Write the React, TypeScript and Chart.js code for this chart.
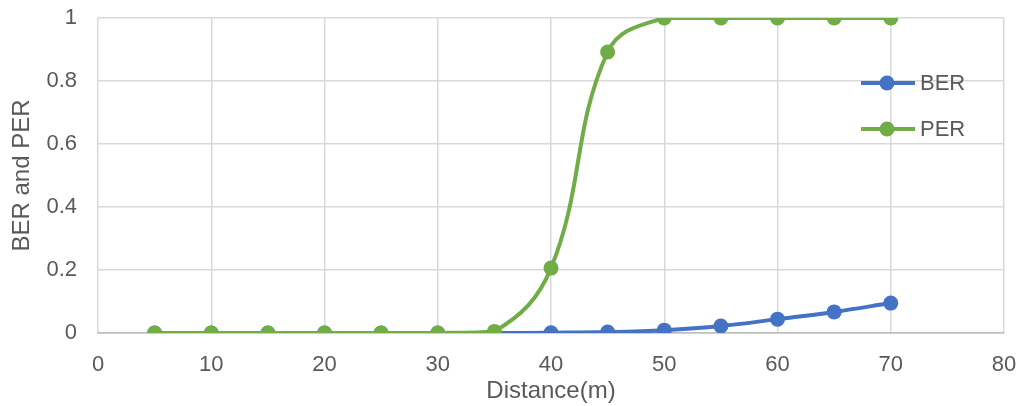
import React, { useEffect, useRef } from "react";
import { Chart, registerables } from "chart.js";

Chart.register(...registerables);

const distances = [5, 10, 15, 20, 25, 30, 35, 40, 45, 50, 55, 60, 65, 70];
const berValues = [0, 0, 0, 0, 0, 0, 0, 0.001, 0.003, 0.009, 0.022, 0.044, 0.067, 0.095];
const perValues = [0, 0, 0, 0, 0, 0, 0.005, 0.206, 0.892, 1, 1, 1, 1, 1];
const seriesNames = ["BER", "PER"];
const seriesColors = ["#4472C4", "#70AD47"];
const xTitle = "Distance(m)";
const yTitle = "BER and PER";

const FONT = "'Liberation Sans', Arial, sans-serif";
const TEXT = "#595959";

const legendPlugin = {
  id: "customLegend",
  afterDraw(chart: any) {
    const ctx = chart.ctx;
    const area = chart.chartArea;
    const x0 = area.right - 143;
    const ys = [area.top + 65, area.top + 111];
    ctx.save();
    seriesNames.forEach((name, i) => {
      const y = ys[i];
      ctx.strokeStyle = seriesColors[i];
      ctx.lineWidth = 4;
      ctx.beginPath();
      ctx.moveTo(x0, y);
      ctx.lineTo(x0 + 54, y);
      ctx.stroke();
      ctx.fillStyle = seriesColors[i];
      ctx.beginPath();
      ctx.arc(x0 + 26, y, 7.5, 0, Math.PI * 2);
      ctx.fill();
      ctx.fillStyle = TEXT;
      ctx.font = `22px ${FONT}`;
      ctx.textAlign = "left";
      ctx.textBaseline = "middle";
      ctx.fillText(name, x0 + 59, y + 1);
    });
    ctx.restore();
  },
};

export default function App() {
  const ref = useRef<HTMLCanvasElement | null>(null);
  useEffect(() => {
    document.body.style.margin = "0";
    const toPts = (vals: number[]) => distances.map((d, i) => ({ x: d, y: vals[i] }));
    const mk = (idx: number, vals: number[]) => ({
      label: seriesNames[idx],
      data: toPts(vals),
      borderColor: seriesColors[idx],
      backgroundColor: seriesColors[idx],
      borderWidth: 4,
      pointRadius: 7.5,
      pointBorderWidth: 0,
      tension: 0.4,
      cubicInterpolationMode: "default" as const,
    });
    const chart = new Chart(ref.current!, {
      type: "line",
      data: {
        datasets: [mk(1, perValues), mk(0, berValues)],
      },
      options: {
        animation: false,
        responsive: false,
        maintainAspectRatio: false,
        layout: { padding: 0 },
        plugins: { legend: { display: false }, tooltip: { enabled: false } },
        scales: {
          x: {
            type: "linear",
            min: 0,
            max: 80,
            ticks: { stepSize: 10, color: TEXT, font: { family: FONT, size: 22 }, padding: 19 },
            grid: { color: "#d9d9d9", lineWidth: 1.5, drawTicks: false },
            border: { color: "#bfbfbf", width: 1.5 },
            title: { display: true, text: xTitle, color: TEXT, font: { family: FONT, size: 24 }, padding: { top: 0, bottom: 0 } },
            afterFit(scale: any) {
              scale.height = 73;
              scale.paddingLeft = 0;
              scale.paddingRight = 12;
            },
          },
          y: {
            min: 0,
            max: 1,
            ticks: {
              stepSize: 0.2,
              color: TEXT,
              font: { family: FONT, size: 22 },
              padding: 21,
              callback: (v: any) => String(Math.round(Number(v) * 10) / 10),
            },
            grid: { color: (c: any) => (c.tick && c.tick.value === 0 ? "#bfbfbf" : "#d9d9d9"), lineWidth: 1.5, drawTicks: false },
            border: { display: false },
            title: { display: true, text: yTitle, color: TEXT, font: { family: FONT, size: 24 }, padding: { top: 8, bottom: 0 } },
            afterFit(scale: any) {
              scale.width = 98;
              scale.paddingTop = 18;
              scale.paddingBottom = 0;
            },
          },
        },
      },
      plugins: [legendPlugin],
    });
    return () => chart.destroy();
  }, []);
  return (
    <div style={{ width: 1016, height: 406 }}>
      <canvas ref={ref} width={1016} height={406} style={{ display: "block" }} />
    </div>
  );
}
